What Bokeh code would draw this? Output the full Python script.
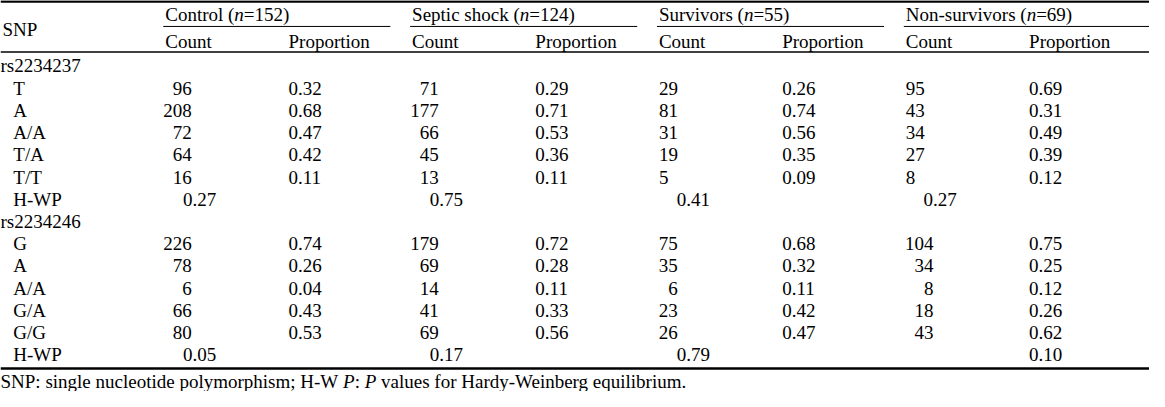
from bokeh.plotting import figure
from bokeh.models import Range1d, ColumnDataSource
from bokeh.core.properties import value
from bokeh.embed import file_html
from bokeh.resources import INLINE

# ---------------- data ----------------
groups = ["Control", "Septic shock", "Survivors", "Non-survivors"]
group_n = [152, 124, 55, 69]
subcols = ["Count", "Proportion"]
snp_ids = ["rs2234237", "rs2234246"]
genotypes_1 = ["T", "A", "A/A", "T/A", "T/T"]
genotypes_2 = ["G", "A", "A/A", "G/A", "G/G"]
hwp_label = "H-WP"

control_count = [96, 208, 72, 64, 16, 226, 78, 6, 66, 80]
control_prop = [0.32, 0.68, 0.47, 0.42, 0.11, 0.74, 0.26, 0.04, 0.43, 0.53]
septic_count = [71, 177, 66, 45, 13, 179, 69, 14, 41, 69]
septic_prop = [0.29, 0.71, 0.53, 0.36, 0.11, 0.72, 0.28, 0.11, 0.33, 0.56]
surv_count = [29, 81, 31, 19, 5, 75, 35, 6, 23, 26]
surv_prop = [0.26, 0.74, 0.56, 0.35, 0.09, 0.68, 0.32, 0.11, 0.42, 0.47]
nonsurv_count = [95, 43, 34, 27, 8, 104, 34, 8, 18, 43]
nonsurv_prop = [0.69, 0.31, 0.49, 0.39, 0.12, 0.75, 0.25, 0.12, 0.26, 0.62]
hwp_1 = [0.27, 0.75, 0.41, 0.27]
hwp_2 = [0.05, 0.17, 0.79, 0.10]

footnote = [("SNP: single nucleotide polymorphism; H-W ", "normal"), ("P", "italic"),
            (": ", "normal"), ("P", "italic"),
            (" values for Hardy-Weinberg equilibrium.", "normal")]

counts = [control_count, septic_count, surv_count, nonsurv_count]
props = [control_prop, septic_prop, surv_prop, nonsurv_prop]

# ---------------- layout ----------------
W_REF, H_REF = 1165, 407
FONT = "Liberation Serif"
FS = 19
FS_PX = "19px"

# Times / Liberation Serif advance widths (1/1000 em)
WID = {' ': 250, '(': 333, ')': 333, '=': 564, ':': 278, ';': 278, '.': 250, '-': 333,
       'A': 722, 'B': 667, 'C': 667, 'D': 722, 'E': 611, 'F': 556, 'G': 722, 'H': 722,
       'I': 333, 'J': 389, 'K': 722, 'L': 611, 'M': 889, 'N': 722, 'O': 722, 'P': 556,
       'Q': 722, 'R': 667, 'S': 556, 'T': 611, 'U': 722, 'V': 722, 'W': 944, 'X': 722,
       'Y': 722, 'Z': 611, 'a': 444, 'b': 500, 'c': 444, 'd': 500, 'e': 444, 'f': 333,
       'g': 500, 'h': 500, 'i': 278, 'j': 278, 'k': 500, 'l': 278, 'm': 778, 'n': 500,
       'o': 500, 'p': 500, 'q': 500, 'r': 333, 's': 389, 't': 278, 'u': 500, 'v': 500,
       'w': 722, 'x': 500, 'y': 500, 'z': 444}
WID_IT = {'P': 611, 'n': 500}
XSCALE = 1149 / W_REF  # data units -> px horizontally


def text_width(s, style):
    tab = WID_IT if style == "italic" else {}
    px = sum(tab.get(c, WID.get(c, 500)) for c in s) / 1000 * FS
    return px / XSCALE


p = figure(width=1149, height=391, output_backend="svg", toolbar_location=None,
           x_range=Range1d(0, W_REF), y_range=Range1d(H_REF, 0),
           min_border=0, min_border_left=0, min_border_right=0,
           min_border_top=0, min_border_bottom=0)
p.axis.visible = False
p.grid.visible = False
p.outline_line_color = None
p.background_fill_color = "white"
p.border_fill_color = "white"

texts = {}  # (align, style) -> dict


def add(x, y, s, align="left", style="normal"):
    d = texts.setdefault((align, style), {"x": [], "y": [], "t": []})
    d["x"].append(x)
    d["y"].append(y)
    d["t"].append(s)


def add_rich(x, y, segs):
    for s, st in segs:
        lead = len(s) - len(s.lstrip(" "))
        x += text_width(" " * lead, st)
        core = s.strip(" ")
        if core:
            add(x, y, core, "left", st)
        x += text_width(s[lead:], st)


group_x0 = 167
group_step = 250.3
prop_off = 125
hwp_off = 18
y_group = 15
y_sub = 43
row_y0 = 68
row_step = 23.15
label_x_snp = 0
label_x_geno = 13

# header
add(2, 30, "SNP")
for g, (name, n) in enumerate(zip(groups, group_n)):
    x0 = group_x0 + g * group_step
    add_rich(x0, y_group, [(name + " (", "normal"), ("n", "italic"), ("=%d)" % n, "normal")])
    add(x0, y_sub, subcols[0])
    add(x0 + prop_off, y_sub, subcols[1])

# count alignment per group & block: ("right", edge offset) or ("left", 0)
count_align = [
    [("right", 27), ("right", 27)],
    [("right", 27), ("right", 27)],
    [("left", 0), ("right", 19)],
    [("left", 0), ("right", 28)],
]

blocks = [(snp_ids[0], genotypes_1, hwp_1), (snp_ids[1], genotypes_2, hwp_2)]
row = 0
for b, (snp, genos, hwp) in enumerate(blocks):
    add(label_x_snp, row_y0 + row * row_step, snp)
    row += 1
    for k, gname in enumerate(genos):
        y = row_y0 + row * row_step
        add(label_x_geno, y, gname)
        idx = b * len(genos) + k
        for g in range(len(groups)):
            x0 = group_x0 + g * group_step
            al, off = count_align[g][b]
            add(x0 + off, y, str(counts[g][idx]), al)
            add(x0 + prop_off, y, "%.2f" % props[g][idx])
        row += 1
    y = row_y0 + row * row_step
    add(label_x_geno, y, hwp_label)
    for g in range(len(groups)):
        x0 = group_x0 + g * group_step
        if b == 1 and g == len(groups) - 1:
            add(x0 + prop_off, y, "%.2f" % hwp[g])
        else:
            add(x0 + hwp_off, y, "%.2f" % hwp[g])
    row += 1

# footnote
add_rich(0, 397, footnote)

for (al, st), d in texts.items():
    src = ColumnDataSource(dict(x=d["x"], y=d["y"], t=d["t"]))
    p.text(x="x", y="y", text="t", source=src, text_font=value(FONT),
           text_font_size=FS_PX, text_font_style=st, text_align=al,
           text_baseline="middle", text_color="black")

# rules
p.segment(x0=[0], x1=[W_REF], y0=[1], y1=[1], line_color="black", line_width=2.5)
gx0 = [group_x0 + g * group_step - 2 for g in range(len(groups))]
gx1 = [group_x0 + (g + 1) * group_step - 22 for g in range(len(groups) - 1)] + [W_REF]
p.segment(x0=gx0, x1=gx1, y0=[27] * len(groups), y1=[27] * len(groups),
          line_color="black", line_width=1)
p.segment(x0=[0], x1=[W_REF], y0=[53.5], y1=[53.5], line_color="black", line_width=1.5)
p.segment(x0=[0], x1=[W_REF], y0=[383], y1=[383], line_color="black", line_width=2.5)

open("out.html", "w").write(file_html(p, INLINE))
